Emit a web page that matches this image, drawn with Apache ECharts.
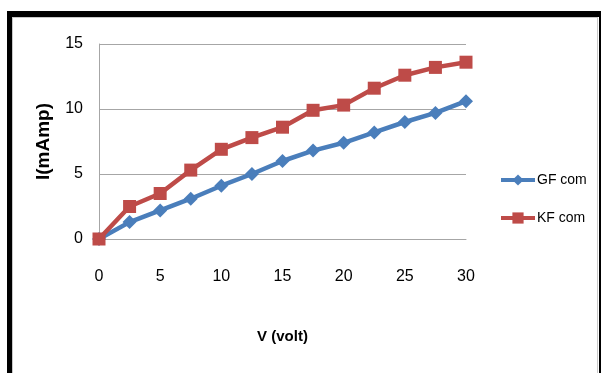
<!DOCTYPE html>
<html>
<head>
<meta charset="utf-8">
<script src="https://cdn.jsdelivr.net/npm/echarts@6/dist/echarts.min.js"></script>
<style>
  html, body { margin: 0; padding: 0; background: #fff; }
  #wrap { position: relative; width: 601px; height: 373px; overflow: hidden; }
  #main { position: absolute; left: 0; top: 0; width: 601px; height: 373px; }
  .bar { position: absolute; pointer-events: none; }
</style>
</head>
<body>
<div id="wrap">
  <div id="main"></div>
  <!-- frame -->
  <div class="bar" style="left:7px;top:11px;width:594px;height:6px;background:#000;"></div>
  <div class="bar" style="left:7px;top:11px;width:5px;height:362px;background:#000;"></div>
  <div class="bar" style="left:599px;top:11px;width:2px;height:362px;background:#000;"></div>
  <div class="bar" style="left:12px;top:17px;width:586px;height:1px;background:#c8c8c8;"></div>
  <div class="bar" style="left:12px;top:17px;width:1px;height:356px;background:#c8c8c8;"></div>
  <div class="bar" style="left:597px;top:17px;width:1px;height:356px;background:#c8c8c8;"></div>
</div>
<script>
var volts = [0, 2.5, 5, 7.5, 10, 12.5, 15, 17.5, 20, 22.5, 25, 27.5, 30];
var gfCom = [0, 1.3, 2.2, 3.1, 4.1, 5.0, 6.0, 6.8, 7.4, 8.2, 9.0, 9.7, 10.6];
var kfCom = [0, 2.5, 3.5, 5.3, 6.9, 7.8, 8.6, 9.9, 10.3, 11.6, 12.6, 13.2, 13.6];

function pairs(ys) {
  var out = [];
  for (var i = 0; i < volts.length; i++) out.push([volts[i], ys[i]]);
  return out;
}

var font = '"Liberation Sans", Arial, sans-serif';
var chart = echarts.init(document.getElementById('main'));

var option = {
  animation: false,
  backgroundColor: '#fff',
  grid: { left: 99, top: 44, right: 135, bottom: 134 },
  legend: {
    orient: 'vertical',
    left: 494,
    top: 168,
    itemGap: 24,
    itemWidth: 34,
    itemHeight: 14,
    lineStyle: { width: 4 },
    textStyle: { fontFamily: font, fontSize: 14, color: '#000', padding: [0, 0, 0, -3] },
    data: ['GF com', 'KF com']
  },
  xAxis: {
    type: 'value',
    min: 0, max: 30, interval: 5,
    name: 'V (volt)',
    nameLocation: 'middle',
    nameGap: 90,
    nameTextStyle: { fontFamily: font, fontSize: 15, fontWeight: 'bold', color: '#000' },
    axisLine: { show: true, lineStyle: { color: '#a6a6a6' } },
    axisTick: { show: false },
    axisLabel: { fontFamily: font, fontSize: 16, color: '#000', margin: 30 },
    splitLine: { show: false }
  },
  yAxis: {
    type: 'value',
    min: 0, max: 15, interval: 5,
    name: 'I(mAmp)',
    nameLocation: 'middle',
    nameGap: 46,
    nameTextStyle: { fontFamily: font, fontSize: 19, fontWeight: 'bold', color: '#000' },
    axisLine: { show: true, lineStyle: { color: '#a6a6a6' } },
    axisTick: { show: false },
    axisLabel: { fontFamily: font, fontSize: 16, color: '#000', margin: 16 },
    splitLine: { show: true, lineStyle: { color: '#a6a6a6' } }
  },
  series: [
    {
      name: 'GF com',
      type: 'line',
      data: pairs(gfCom),
      symbol: 'diamond',
      symbolSize: 14,
      color: '#4a7ebb',
      lineStyle: { width: 4.5 },
      itemStyle: { color: '#4a7ebb' }
    },
    {
      name: 'KF com',
      type: 'line',
      data: pairs(kfCom),
      symbol: 'rect',
      symbolSize: 13,
      color: '#be4b48',
      lineStyle: { width: 4.5 },
      itemStyle: { color: '#be4b48' }
    }
  ]
};

chart.setOption(option);
</script>
</body>
</html>
